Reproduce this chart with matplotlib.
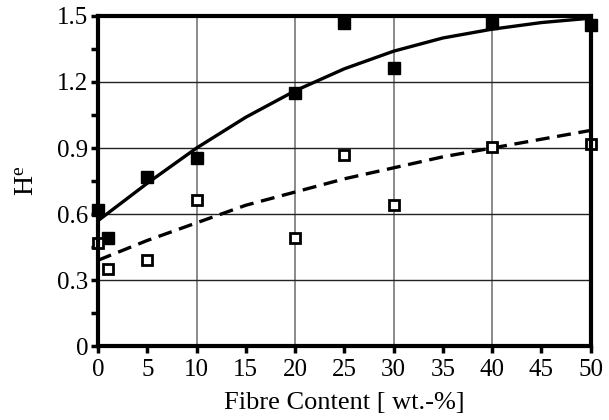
import matplotlib
matplotlib.use("Agg")
import matplotlib.pyplot as plt
from matplotlib.ticker import MultipleLocator

plt.rcParams['font.family'] = ['Liberation Serif', 'DejaVu Serif']
plt.rcParams['mathtext.fontset'] = 'custom'
plt.rcParams['mathtext.rm'] = 'Liberation Serif'
plt.rcParams['mathtext.it'] = 'Liberation Serif:italic'

# measured points
fibre = [0, 1, 5, 10, 20, 25, 30, 40, 50]
he_filled = [0.62, 0.49, 0.77, 0.855, 1.15, 1.47, 1.265, 1.47, 1.46]
he_open = [0.47, 0.35, 0.39, 0.665, 0.49, 0.87, 0.64, 0.905, 0.92]

# fitted curves
fit_x = [0, 5, 10, 15, 20, 25, 30, 35, 40, 45, 50]
fit_solid = [0.57, 0.74, 0.90, 1.04, 1.16, 1.26, 1.34, 1.40, 1.44, 1.47, 1.49]
fit_dashed = [0.39, 0.48, 0.56, 0.64, 0.70, 0.76, 0.81, 0.86, 0.90, 0.94, 0.98]

fig = plt.figure(figsize=(6.09, 4.2), dpi=100)
ax = fig.add_axes([0.161, 0.176, 0.809, 0.786])

ax.plot(fit_x, fit_solid, color='black', lw=2.4, zorder=3)
ax.plot(fit_x, fit_dashed, color='black', lw=2.4, ls=(0, (4.2, 2.3)), zorder=3)

ax.plot(fibre, he_filled, 's', color='black', ms=8.5, clip_on=False, zorder=4)
ax.plot(fibre, he_open, 's', mfc='white', mec='black', mew=2.0, ms=7.8,
        clip_on=False, zorder=4)

ax.set_xlim(0, 50)
ax.set_ylim(0, 1.5)
ax.xaxis.set_major_locator(MultipleLocator(5))
ax.yaxis.set_minor_locator(MultipleLocator(0.15))
ax.set_yticks([0, 0.3, 0.6, 0.9, 1.2, 1.5])
ax.set_yticklabels(['0', '0.3', '0.6', '0.9', '1.2', '1.5'])

for x in [10, 20, 30, 40]:
    ax.axvline(x, color='#777777', lw=1.2, zorder=1)
for y in [0.3, 0.6, 0.9, 1.2]:
    ax.axhline(y, color='#222222', lw=1.0, zorder=1)

for s in ax.spines.values():
    s.set_linewidth(3)
    s.set_zorder(5)

ax.tick_params(axis='both', which='major', direction='out', length=5, width=2.5,
               labelsize=18, pad=2)
ax.tick_params(axis='x', which='major', pad=4)
ax.tick_params(axis='y', which='minor', direction='out', length=5, width=2.5)

ax.set_xlabel('Fibre Content [ wt.-%]', fontsize=19, labelpad=8)
ax.set_ylabel(r'H$^{\mathrm{e}}$', fontsize=20, labelpad=12)

fig.savefig('out.png', dpi=100)
